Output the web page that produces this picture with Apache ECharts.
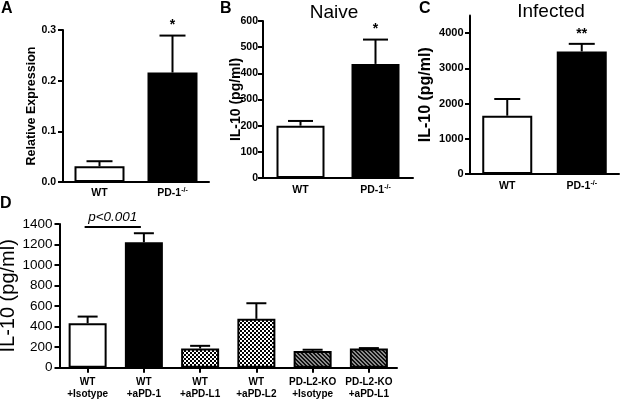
<!DOCTYPE html>
<html>
<head>
<meta charset="utf-8">
<script src="https://cdn.jsdelivr.net/npm/echarts@6/dist/echarts.min.js"></script>
<style>html,body{margin:0;padding:0;background:#fff;}#chart{width:620px;height:400px;}</style>
</head>
<body>
<div id="chart"></div>
<script>
// ---------- DATA ----------
const catsA = ['WT', 'PD-1^-/-'];
const meanA = [0.031, 0.216];
const semA = [0.010, 0.073];
const sigA = ['', '*'];
const ticksA = [0, 0.1, 0.2, 0.3];

const catsB = ['WT', 'PD-1^-/-'];
const meanB = [200, 436];
const semB = [18, 93];
const sigB = ['', '*'];
const ticksB = [0, 100, 200, 300, 400, 500, 600];

const catsC = ['WT', 'PD-1^-/-'];
const meanC = [1655, 3480];
const semC = [475, 215];
const sigC = ['', '**'];
const ticksC = [0, 1000, 2000, 3000, 4000];

const catsD = ['WT\n+Isotype', 'WT\n+aPD-1', 'WT\n+aPD-L1', 'WT\n+aPD-L2', 'PD-L2-KO\n+Isotype', 'PD-L2-KO\n+aPD-L1'];
const meanD = [433, 1222, 187, 476, 163, 187];
const semD = [65, 88, 26, 152, 12, 4];
const ticksD = [0, 200, 400, 600, 800, 1000, 1200, 1400];
const pCompare = [0, 1];
const pLevel = 1370;
const pText = 'p<0.001';

const titleB = 'Naive';
const titleC = 'Infected';
const yNameABC = ['Relative Expression', 'IL-10 (pg/ml)', 'IL-10 (pg/ml)'];
const yNameD = 'IL-10 (pg/ml)';

// ---------- STYLE ----------
const FONT = '"Liberation Sans", Arial, Helvetica, sans-serif';

function makePattern(kind) {
  const c = document.createElement('canvas');
  c.width = 4; c.height = 4;
  const ctx = c.getContext('2d');
  if (kind === 'checker') {
    ctx.fillStyle = '#000'; ctx.fillRect(0, 0, 4, 4);
    ctx.fillStyle = '#fff'; ctx.fillRect(0, 0, 2, 2); ctx.fillRect(2, 2, 2, 2);
  } else {
    ctx.fillStyle = '#8c8c8c'; ctx.fillRect(0, 0, 4, 4);
    ctx.fillStyle = '#111';
    for (let i = 0; i < 4; i++) { ctx.fillRect(i, i, 1, 1); ctx.fillRect((i + 1) % 4, i, 1, 1); }
  }
  return { image: c, repeat: 'repeat' };
}
const checker = makePattern('checker');
const hatch = makePattern('hatch');
const fillsABC = ['#ffffff', '#000000'];
const fillsD = ['#ffffff', '#000000', checker, checker, hatch, hatch];

const grids = [
  { left: 63, top: 30, width: 146, height: 152, outerBoundsMode: 'none', containLabel: false },
  { left: 263, top: 21, width: 150, height: 157, outerBoundsMode: 'none', containLabel: false },
  { left: 470, top: 15.5, width: 149, height: 158.5, outerBoundsMode: 'none', containLabel: false },
  { left: 59.5, top: 224, width: 337.5, height: 143.7, outerBoundsMode: 'none', containLabel: false }
];

function catFormatter(v) {
  const p = v.split('^');
  return p.length > 1 ? '{b|' + p[0] + '}{sup|' + p[1] + '}' : '{b|' + p[0] + '}';
}
const richCat = {
  b: { fontSize: 10.5, fontWeight: 'bold', fontFamily: FONT, color: '#000', lineHeight: 12 },
  sup: { fontSize: 7, fontWeight: 'bold', fontFamily: FONT, color: '#000', verticalAlign: 'top', lineHeight: 7 }
};

function xAxisABC(idx, cats, margin) {
  return {
    type: 'category', gridIndex: idx, data: cats,
    axisLine: { lineStyle: { color: '#000', width: 2 } },
    axisTick: { show: false },
    axisLabel: { margin: margin, formatter: catFormatter, rich: richCat, interval: 0 }
  };
}
function yAxisCommon(idx, min, max, ticks, name, nameGap, nameSize, nameWeight, labelSize, labelWeight, margin, fmt) {
  return {
    type: 'value', gridIndex: idx, min: min, max: max,
    interval: ticks[1] - ticks[0],
    splitLine: { show: false },
    axisLine: { show: true, lineStyle: { color: '#000', width: 2 } },
    axisTick: { show: true, length: 5, lineStyle: { color: '#000', width: 2 }, customValues: ticks },
    axisLabel: { customValues: ticks, margin: margin, color: '#000', fontSize: labelSize, fontWeight: labelWeight, fontFamily: FONT, formatter: fmt },
    name: name, nameLocation: 'middle', nameGap: nameGap, nameMoveOverlap: false,
    nameTextStyle: { color: '#000', fontSize: nameSize, fontWeight: nameWeight, fontFamily: FONT }
  };
}

function barSeries(idx, means, fills, width) {
  return {
    type: 'bar', xAxisIndex: idx, yAxisIndex: idx, barWidth: width, z: 2,
    itemStyle: { borderColor: '#000', borderWidth: 2 },
    data: means.map((v, i) => ({ value: v, itemStyle: { color: fills[i] } })),
    animation: false
  };
}
function errSeries(idx, means, sems, capW) {
  return {
    type: 'custom', xAxisIndex: idx, yAxisIndex: idx, z: 3, animation: false,
    data: means.map((v, i) => [i, v, v + sems[i]]),
    encode: { x: 0, y: [1, 2] },
    renderItem: function (params, api) {
      const top = api.coord([api.value(0), api.value(2)]);
      const base = api.coord([api.value(0), api.value(1)]);
      const s = { stroke: '#000', lineWidth: 2 };
      return {
        type: 'group', children: [
          { type: 'line', shape: { x1: top[0], y1: base[1], x2: top[0], y2: top[1] }, style: s },
          { type: 'line', shape: { x1: top[0] - capW / 2, y1: top[1], x2: top[0] + capW / 2, y2: top[1] }, style: s }
        ]
      };
    }
  };
}
function sigSeries(idx, means, sems, sig) {
  return {
    type: 'custom', xAxisIndex: idx, yAxisIndex: idx, z: 4, animation: false,
    data: means.map((v, i) => [i, v + sems[i]]),
    encode: { x: 0, y: 1 },
    renderItem: function (params, api) {
      const p = api.coord([api.value(0), api.value(1)]);
      return {
        type: 'text', x: p[0], y: p[1] - 3,
        style: { text: sig[params.dataIndex], align: 'center', verticalAlign: 'bottom', font: 'bold 14px ' + FONT, fill: '#000' }
      };
    }
  };
}

const chart = echarts.init(document.getElementById('chart'), null, { renderer: 'canvas' });
const option = {
  animation: false,
  backgroundColor: '#fff',
  grid: grids,
  xAxis: [
    xAxisABC(0, catsA, 5),
    xAxisABC(1, catsB, 6),
    xAxisABC(2, catsC, 6),
    {
      type: 'category', gridIndex: 3, data: catsD,
      axisLine: { lineStyle: { color: '#000', width: 2 } },
      axisTick: { show: true, alignWithLabel: true, length: 5, lineStyle: { color: '#000', width: 2 } },
      axisLabel: { margin: 9, interval: 0, color: '#000', fontSize: 10, fontWeight: 'bold', fontFamily: FONT, lineHeight: 12 }
    }
  ],
  yAxis: [
    yAxisCommon(0, 0, 0.3, ticksA, yNameABC[0], 25, 12.5, 'bold', 10.5, 'bold', 7, v => v.toFixed(1)),
    yAxisCommon(1, 0, 600, ticksB, yNameABC[1], 20, 14, 'bold', 10.5, 'bold', 5, v => String(v)),
    yAxisCommon(2, 0, 4500, ticksC, yNameABC[2], 36, 16, 'bold', 11, 'bold', 6.5, v => String(v)),
    yAxisCommon(3, 0, 1400, ticksD, yNameD, 41, 20, 'normal', 13.5, 'normal', 7, v => String(v))
  ],
  series: [
    barSeries(0, meanA, fillsABC, 50), errSeries(0, meanA, semA, 26), sigSeries(0, meanA, semA, sigA),
    barSeries(1, meanB, fillsABC, 48), errSeries(1, meanB, semB, 25), sigSeries(1, meanB, semB, sigB),
    barSeries(2, meanC, fillsABC, 50), errSeries(2, meanC, semC, 26), sigSeries(2, meanC, semC, sigC),
    barSeries(3, meanD, fillsD, 38), errSeries(3, meanD, semD, 20),
    {
      type: 'custom', xAxisIndex: 3, yAxisIndex: 3, z: 4, animation: false,
      data: [[pCompare[0], pCompare[1], pLevel]],
      encode: { x: [0, 1], y: 2 },
      renderItem: function (params, api) {
        const a = api.coord([api.value(0), api.value(2)]);
        const b = api.coord([api.value(1), api.value(2)]);
        return {
          type: 'group', children: [
            { type: 'line', shape: { x1: a[0] - 3, y1: a[1], x2: b[0] - 3, y2: b[1] }, style: { stroke: '#000', lineWidth: 2 } },
            { type: 'text', x: (a[0] + b[0]) / 2 - 3, y: a[1] - 3, style: { text: pText, align: 'center', verticalAlign: 'bottom', font: 'italic 13.5px ' + FONT, fill: '#000' } }
          ]
        };
      }
    }
  ],
  graphic: [
    { type: 'text', x: 1, y: 9, style: { text: 'A', font: 'bold 16px ' + FONT, fill: '#000', align: 'left', verticalAlign: 'middle' } },
    { type: 'text', x: 220, y: 9, style: { text: 'B', font: 'bold 16px ' + FONT, fill: '#000', align: 'left', verticalAlign: 'middle' } },
    { type: 'text', x: 419, y: 9, style: { text: 'C', font: 'bold 16px ' + FONT, fill: '#000', align: 'left', verticalAlign: 'middle' } },
    { type: 'text', x: 0, y: 204, style: { text: 'D', font: 'bold 16px ' + FONT, fill: '#000', align: 'left', verticalAlign: 'middle' } },
    { type: 'text', x: 334, y: 13, style: { text: titleB, font: '19px ' + FONT, fill: '#000', align: 'center', verticalAlign: 'middle' } },
    { type: 'text', x: 551, y: 12, style: { text: titleC, font: '19px ' + FONT, fill: '#000', align: 'center', verticalAlign: 'middle' } }
  ]
};
chart.setOption(option);
</script>
</body>
</html>
